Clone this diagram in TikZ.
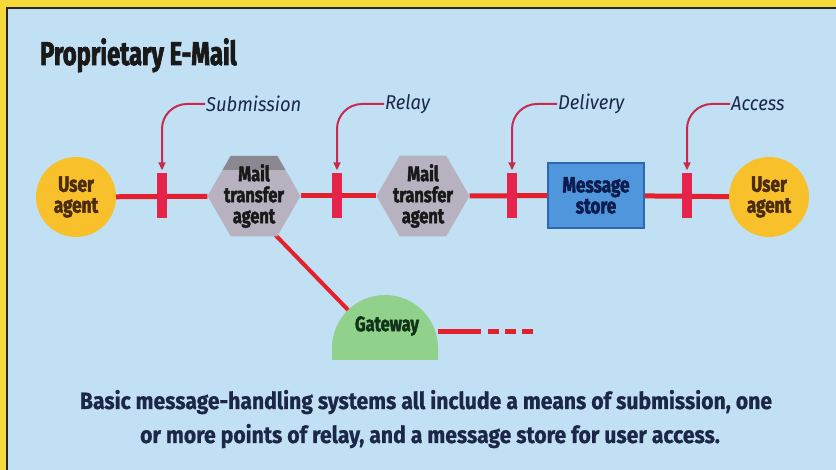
\documentclass[tikz,border=0pt]{standalone}
\usepackage{fontspec}
\setmainfont{Fira Sans}
\newfontfamily\condb[FakeStretch=0.78, FakeBold=2]{Fira Sans}
\newfontfamily\titlefont[FakeStretch=0.72, FakeBold=2]{Fira Sans}
\newfontfamily\labfont[FakeStretch=0.92]{Fira Sans}
\newfontfamily\bodyfont[FakeStretch=0.9, FakeBold=0.8]{Fira Sans}
\usetikzlibrary{shapes.geometric,arrows.meta,backgrounds}
\definecolor{yellowbg}{RGB}{246,217,59}
\definecolor{panel}{RGB}{194,224,243}
\definecolor{linered}{RGB}{227,32,44}
\definecolor{tickred}{RGB}{229,35,75}
\definecolor{callred}{RGB}{198,42,78}
\definecolor{hexgray}{RGB}{183,177,192}
\definecolor{hexdark}{RGB}{140,136,146}
\definecolor{uagold}{RGB}{248,193,44}
\definecolor{uatext}{RGB}{75,43,18}
\definecolor{msblue}{RGB}{79,150,220}
\definecolor{msborder}{RGB}{44,105,176}
\definecolor{mstext}{RGB}{13,27,77}
\definecolor{gwgreen}{RGB}{144,209,140}
\definecolor{gwtext}{RGB}{17,51,25}
\definecolor{navy}{RGB}{28,38,71}
\tikzset{
  agent/.style={circle, minimum size=80pt, inner sep=0pt, fill=uagold, text=uatext,
    align=center, font=\condb\bfseries\fontsize{22}{21}\selectfont},
  hexshape/.style={regular polygon, regular polygon sides=6, minimum size=93pt, inner sep=0pt,
    fill=hexgray},
  hextop/.style={path picture={\fill[hexdark] (path picture bounding box.north west) rectangle ([yshift=-14pt]path picture bounding box.north east);}},
  hextext/.style={align=center, text=black!90, inner sep=0pt,
    font=\condb\bfseries\fontsize{21}{21}\selectfont},
  store/.style={rectangle, minimum width=96pt, minimum height=65pt, fill=msblue, draw=msborder,
    line width=1.5pt, text=mstext, align=center, font=\condb\bfseries\fontsize{22}{21}\selectfont},
  tickbar/.style={rectangle, minimum width=10pt, minimum height=45pt, inner sep=0pt, fill=tickred},
  mainline/.style={linered, line width=5pt},
  callout/.style={callred, line width=2pt, rounded corners=25pt, -{Triangle[length=8pt,width=7pt]}},
  lbl/.style={anchor=west, inner sep=1pt, text=navy, font=\labfont\itshape\fontsize{20}{20}\selectfont},
  captxt/.style={anchor=base, inner sep=0pt, text=navy, font=\bodyfont\bfseries\fontsize{23.5}{23.5}\selectfont},
}
\begin{document}
\begin{tikzpicture}[x=1pt,y=1pt]
\useasboundingbox (0,0) rectangle (836,470);
\begin{pgfonlayer}{background}
  \fill[yellowbg] (0,0) rectangle (836,470);
  \fill[panel] (7,0) rectangle (836,462);
  \draw[black!85, line width=1.5pt] (7,0) -- (7,462) -- (836,462);
\end{pgfonlayer}

\node[anchor=base west, inner sep=0pt, text=black!90, font=\titlefont\bfseries\fontsize{33}{33}\selectfont] (title) at (40,405) {Proprietary E-Mail};

% main nodes
\node[agent] (ua1) at (76,273) {User\\agent};
\node[hexshape, hextop] (mta1) at (254,274) {};
\node[hextext] (mta1t) at (mta1) {Mail\\transfer\\agent};
\node[hexshape] (mta2) at (423,274) {};
\node[hextext] (mta2t) at (mta2) {Mail\\transfer\\agent};
\node[store] (ms) at (596,274.5) {Message\\store};
\node[agent] (ua2) at (769,273) {User\\agent};

% gateway
\node[inner sep=0pt, text=gwtext, font=\condb\bfseries\fontsize{21}{21}\selectfont] (gw) at (387,144) {Gateway};
\coordinate (gwc) at (385,122);
\coordinate (gwe) at (438,138);
\begin{pgfonlayer}{background}
  \draw[mainline, line width=4pt] (gwc) -- ([yshift=-17pt]mta1.center);
  \fill[gwgreen] (332,110) -- (332,122) arc[start angle=180,end angle=0,radius=53] -- (438,110) -- cycle;
\end{pgfonlayer}
\draw[mainline, line width=5pt, dash pattern=on 43pt off 7pt on 11pt off 6pt on 11pt off 6pt on 11pt] (gwe) -- ++(95,0);

% main line
\draw[mainline] (ua1) -- (mta1);
\draw[mainline] (mta1) -- (mta2);
\draw[mainline] (mta2) -- (ms);
\draw[mainline] (ms) -- (ua2);

% ticks
\node[tickbar] (t1) at (162,274) {};
\node[tickbar] (t2) at (337,274) {};
\node[tickbar] (t3) at (512,274) {};
\node[tickbar] (t4) at (687,274) {};

% callout labels
\node[lbl] (lsub) at (205,366) {Submission};
\node[lbl] (lrel) at (384,366) {Relay};
\node[lbl] (ldel) at (557,366) {Delivery};
\node[lbl] (lacc) at (730,366) {Access};
\draw[callout] (lsub.west) -| ([yshift=3pt]t1.north);
\draw[callout] (lrel.west) -| ([yshift=3pt]t2.north);
\draw[callout] (ldel.west) -| ([yshift=3pt]t3.north);
\draw[callout] (lacc.west) -| ([yshift=3pt]t4.north);

% caption
\node[captxt] (cap1) at (426,61) {Basic message-handling systems all include a means of submission, one};
\node[captxt] (cap2) at (430,27) {or more points of relay, and a message store for user access.};
\end{tikzpicture}
\end{document}
